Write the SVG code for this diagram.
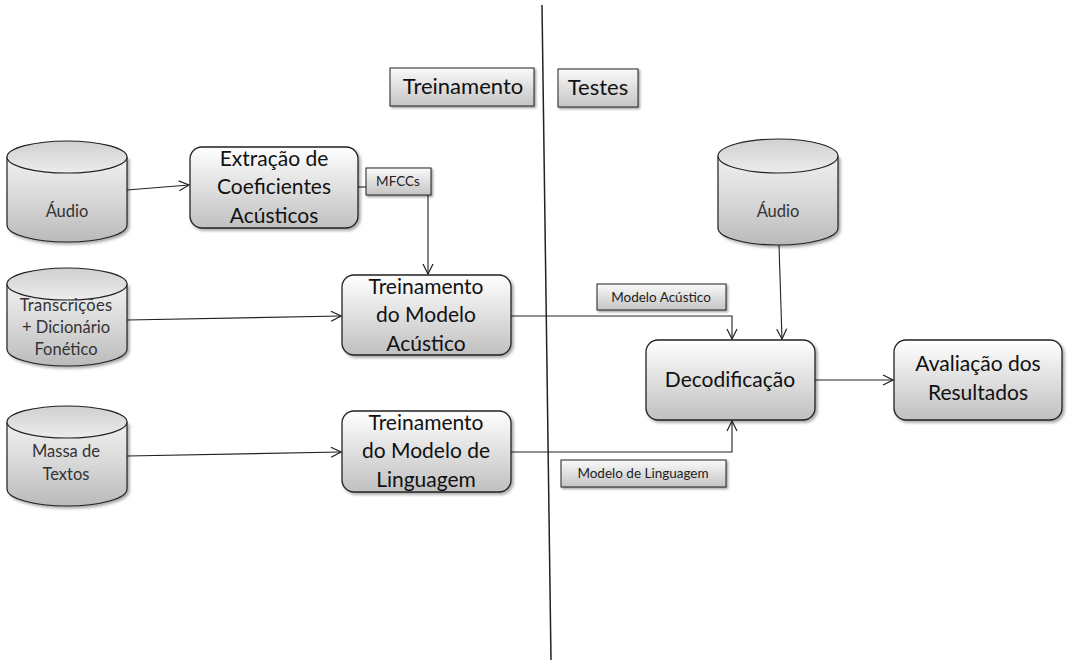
<svg xmlns="http://www.w3.org/2000/svg" width="1070" height="668" viewBox="0 0 1070 668">
<style>
text{font-family:Lato,"Open Sans","Liberation Sans",sans-serif;fill:#111;text-anchor:middle}
.box{fill:url(#gBox);stroke:#222;stroke-width:1.3;filter:url(#sh)}
.lbl{fill:url(#gLbl);stroke:#222;stroke-width:1;filter:url(#sh2)}
.cyl{fill:url(#gCyl);stroke:#222;stroke-width:1.2;filter:url(#sh)}
.cyltop{fill:url(#gTop);stroke:#222;stroke-width:1.2}
.big{font-size:21px}
.mid{font-size:16.5px;fill:#333}
.sm{font-size:13.5px;fill:#222}
.hdr{font-size:22px}
.con{fill:none;stroke:#222;stroke-width:1.1}
</style>
<defs>
<linearGradient id="gBox" x1="0" y1="0" x2="0" y2="1"><stop offset="0" stop-color="#ffffff"/><stop offset="1" stop-color="#c0c0c0"/></linearGradient>
<linearGradient id="gLbl" x1="0" y1="0" x2="0" y2="1"><stop offset="0" stop-color="#fafafa"/><stop offset="1" stop-color="#c4c4c4"/></linearGradient>
<linearGradient id="gCyl" x1="0" y1="0" x2="0" y2="1"><stop offset="0" stop-color="#f0f0f0"/><stop offset="0.5" stop-color="#d8d8d8"/><stop offset="1" stop-color="#bababa"/></linearGradient>
<linearGradient id="gTop" x1="0" y1="0" x2="0" y2="1"><stop offset="0" stop-color="#d0d0d0"/><stop offset="1" stop-color="#ececec"/></linearGradient>
<filter id="sh" x="-10%" y="-10%" width="130%" height="130%"><feDropShadow dx="2" dy="2" stdDeviation="1.5" flood-color="#000" flood-opacity="0.35"/></filter>
<filter id="sh2" x="-10%" y="-10%" width="130%" height="140%"><feDropShadow dx="1.5" dy="1.5" stdDeviation="1" flood-color="#000" flood-opacity="0.4"/></filter>
<marker id="arr" viewBox="0 0 12 12" refX="11" refY="6" markerWidth="12" markerHeight="12" markerUnits="userSpaceOnUse" orient="auto"><path d="M1,1 L11,6 L1,11" fill="none" stroke="#222" stroke-width="1.2"/></marker>
</defs>
<rect width="1070" height="668" fill="#fff"/>

<line x1="542" y1="5" x2="551" y2="660" stroke="#222" stroke-width="1.5"/>

<g id="connectors">
<path class="con" d="M127,190 L189,185" marker-end="url(#arr)"/>
<path class="con" d="M358,187 L366,187"/>
<path class="con" d="M428,195 L428,274" marker-end="url(#arr)"/>
<path class="con" d="M127,320 L341,316" marker-end="url(#arr)"/>
<path class="con" d="M127,456 L341,452" marker-end="url(#arr)"/>
<path class="con" d="M511,316 L732,316 L732,339" marker-end="url(#arr)"/>
<path class="con" d="M779,245 L782,339" marker-end="url(#arr)"/>
<path class="con" d="M511,452 L732,452 L732,421" marker-end="url(#arr)"/>
<path class="con" d="M815,380 L893,380" marker-end="url(#arr)"/>
</g>

<g id="hdr-treinamento"><rect class="lbl" x="390" y="68" width="144" height="38"/><text class="hdr" x="463" y="94">Treinamento</text></g>
<g id="hdr-testes"><rect class="lbl" x="558" y="69" width="80" height="38"/><text class="hdr" x="598" y="95">Testes</text></g>

<g id="audio1">
<path class="cyl" d="M7,157 L7,225 A60,17 0 0 0 127,225 L127,157"/>
<ellipse class="cyltop" cx="67" cy="157" rx="60" ry="16"/>
<text class="mid" x="67" y="217">Áudio</text>
</g>
<g id="transcricoes">
<path class="cyl" d="M7,284 L7,349 A60,17 0 0 0 127,349 L127,284"/>
<ellipse class="cyltop" cx="67" cy="284" rx="60" ry="16"/>
<text class="mid" x="66" y="311" letter-spacing="0.3">Transcrições</text>
<text class="mid" x="66" y="333">+ Dicionário</text>
<text class="mid" x="66" y="355">Fonético</text>
</g>
<g id="massa">
<path class="cyl" d="M7,422 L7,489 A60,17 0 0 0 127,489 L127,422"/>
<ellipse class="cyltop" cx="67" cy="422" rx="60" ry="16"/>
<text class="mid" x="66" y="457">Massa de</text>
<text class="mid" x="66" y="480">Textos</text>
</g>
<g id="audio2">
<path class="cyl" d="M718,156 L718,228 A60,17 0 0 0 838,228 L838,156"/>
<ellipse class="cyltop" cx="778" cy="156" rx="60" ry="17"/>
<text class="mid" x="778" y="217">Áudio</text>
</g>

<g id="extracao"><rect class="box" x="190" y="147" width="168" height="81" rx="12"/>
<text class="big" x="274" y="166">Extração de</text><text class="big" x="274" y="194">Coeficientes</text><text class="big" x="274" y="223">Acústicos</text></g>
<g id="mfccs"><rect class="lbl" x="366" y="168" width="65" height="27"/><text class="sm" x="398" y="186">MFCCs</text></g>
<g id="treino-am"><rect class="box" x="342" y="275" width="169" height="80" rx="12"/>
<text class="big" x="426" y="294">Treinamento</text><text class="big" x="426" y="322">do Modelo</text><text class="big" x="426" y="351">Acústico</text></g>
<g id="treino-lm"><rect class="box" x="342" y="411" width="169" height="81" rx="12"/>
<text class="big" x="426" y="430">Treinamento</text><text class="big" x="426" y="458">do Modelo de</text><text class="big" x="426" y="487">Linguagem</text></g>
<g id="lbl-am"><rect class="lbl" x="597" y="284" width="129" height="26"/><text class="sm" x="661" y="302">Modelo Acústico</text></g>
<g id="lbl-lm"><rect class="lbl" x="561" y="460" width="165" height="27"/><text class="sm" x="643" y="478">Modelo de Linguagem</text></g>
<g id="decod"><rect class="box" x="646" y="340" width="169" height="80" rx="12"/>
<text class="big" x="730" y="387">Decodificação</text></g>
<g id="avaliacao"><rect class="box" x="894" y="340" width="168" height="80" rx="12"/>
<text class="big" x="978" y="371">Avaliação dos</text><text class="big" x="978" y="400">Resultados</text></g>
</svg>
